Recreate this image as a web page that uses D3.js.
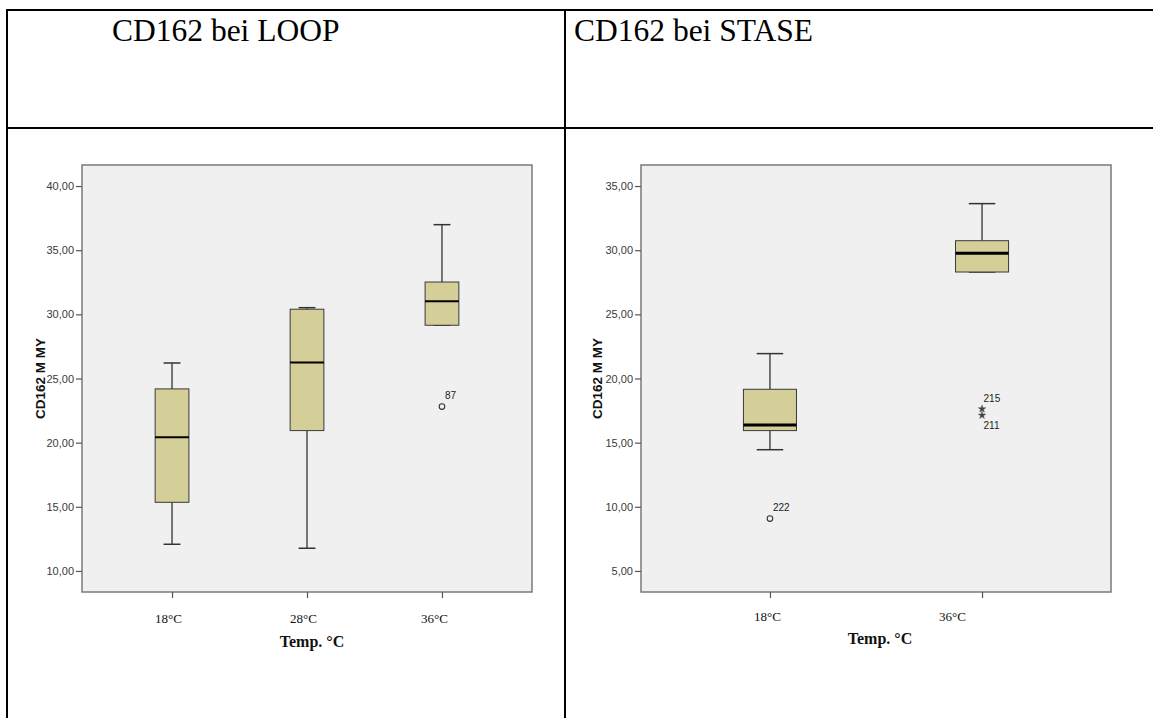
<!DOCTYPE html>
<html>
<head>
<meta charset="utf-8">
<script src="https://cdn.jsdelivr.net/npm/d3@7"></script>
<style>
  html, body { margin: 0; padding: 0; background: #fff; }
  svg { display: block; }
</style>
</head>
<body>
<svg id="chart" width="1153" height="718"></svg>
<script>
// ---- LOOP panel data (CD162 M MY by temperature) ----
const loopCategories = ["18°C", "28°C", "36°C"];
const loopWhiskerLow  = [12.08, 11.77, 29.15];
const loopQ1          = [15.35, 20.94, 29.15];
const loopMedian      = [20.42, 26.24, 31.02];
const loopQ3          = [24.19, 30.40, 32.52];
const loopWhiskerHigh = [26.21, 30.52, 36.99];
const loopOutlierCat   = ["36°C"];
const loopOutlierValue = [22.81];
const loopOutlierId    = ["87"];
const loopOutlierKind  = ["circle"];
const loopTicks = [10, 15, 20, 25, 30, 35, 40];

// ---- STASE panel data ----
const staseCategories = ["18°C", "36°C"];
const staseWhiskerLow  = [14.45, 28.30];
const staseQ1          = [15.94, 28.30];
const staseMedian      = [16.38, 29.76];
const staseQ3          = [19.16, 30.74];
const staseWhiskerHigh = [21.94, 33.63];
const staseOutlierCat   = ["18°C", "36°C", "36°C"];
const staseOutlierValue = [9.08, 17.63, 17.13];
const staseOutlierId    = ["222", "215", "211"];
const staseOutlierKind  = ["circle", "star", "star"];
const staseTicks = [5, 10, 15, 20, 25, 30, 35];

const titles = ["CD162 bei LOOP", "CD162 bei STASE"];
const yTitle = "CD162 M MY";
const xTitle = "Temp. °C";

const svg = d3.select("#chart");
const fmt = v => d3.format(".2f")(v).replace(".", ",");

// ---- table grid ----
const grid = svg.append("g").attr("stroke", "#000").attr("stroke-width", 2);
grid.append("line").attr("x1", 6).attr("x2", 1153).attr("y1", 10).attr("y2", 10);
grid.append("line").attr("x1", 6).attr("x2", 1153).attr("y1", 128).attr("y2", 128);
grid.append("line").attr("x1", 7).attr("x2", 7).attr("y1", 9).attr("y2", 718);
grid.append("line").attr("x1", 565).attr("x2", 565).attr("y1", 9).attr("y2", 718);

// cell titles
svg.append("text").attr("x", 112).attr("y", 41).text(titles[0])
  .attr("font-family", "Liberation Serif, Times New Roman, serif").attr("font-size", 31.5).attr("fill", "#000");
svg.append("text").attr("x", 574).attr("y", 41).text(titles[1])
  .attr("font-family", "Liberation Serif, Times New Roman, serif").attr("font-size", 31.5).attr("fill", "#000");

function drawPanel(cfg) {
  const g = svg.append("g");
  const { left, right, top, bottom } = cfg.frame;

  const x = d3.scalePoint().domain(cfg.categories).range([left, right]).padding(cfg.padding);
  const y = d3.scaleLinear().domain(cfg.domain).range([bottom, top]);
  const boxW = x.step() * 0.25;

  // plot area
  g.append("rect").attr("x", left).attr("y", top)
    .attr("width", right - left).attr("height", bottom - top)
    .attr("fill", "#f0f0f0").attr("stroke", "#7a7a7a").attr("stroke-width", 1.5);

  // y axis
  const ya = g.append("g").attr("transform", `translate(${left},0)`)
    .call(d3.axisLeft(y).tickValues(cfg.ticks).tickFormat(fmt).tickSize(6).tickPadding(2));
  ya.select(".domain").remove();
  ya.selectAll(".tick line").attr("stroke", "#555").attr("stroke-width", 1.2);
  ya.selectAll(".tick text").attr("font-family", "Liberation Sans, Arial, sans-serif")
    .attr("font-size", 11).attr("fill", "#3a3a3a");

  // x axis
  const xa = g.append("g").attr("transform", `translate(0,${bottom})`)
    .call(d3.axisBottom(x).tickSize(6).tickPadding(0));
  xa.select(".domain").remove();
  xa.selectAll(".tick line").attr("stroke", "#555").attr("stroke-width", 1.2);
  xa.selectAll(".tick text")
    .attr("font-family", "Liberation Serif, Times New Roman, serif")
    .attr("font-size", 13).attr("fill", "#111")
    .attr("dy", null)
    .attr("y", cfg.xLabelBaseline - bottom)
    .attr("x", (d, i) => cfg.xLabelShift[i]);

  // axis titles
  g.append("text")
    .attr("transform", `translate(${cfg.yTitleX},${(top + bottom) / 2}) rotate(-90)`)
    .attr("text-anchor", "middle")
    .attr("font-family", "Liberation Sans, Arial, sans-serif").attr("font-weight", "bold")
    .attr("font-size", 13.5).attr("fill", "#111").text(yTitle);
  g.append("text")
    .attr("x", cfg.xTitleX).attr("y", cfg.xTitleBaseline).attr("text-anchor", "middle")
    .attr("font-family", "Liberation Serif, Times New Roman, serif").attr("font-weight", "bold")
    .attr("font-size", 16).attr("fill", "#111").text(xTitle);

  // boxes
  const rows = cfg.categories.map((c, i) => ({
    c, lo: cfg.lo[i], q1: cfg.q1[i], med: cfg.med[i], q3: cfg.q3[i], hi: cfg.hi[i]
  }));
  const box = g.selectAll(".box").data(rows).join("g").attr("class", "box");
  box.append("line").attr("x1", d => x(d.c)).attr("x2", d => x(d.c))
    .attr("y1", d => y(d.hi)).attr("y2", d => y(d.q3)).attr("stroke", "#333").attr("stroke-width", 1.3);
  box.append("line").attr("x1", d => x(d.c)).attr("x2", d => x(d.c))
    .attr("y1", d => y(d.q1)).attr("y2", d => y(d.lo)).attr("stroke", "#333").attr("stroke-width", 1.3);
  box.append("line").attr("x1", d => x(d.c) - boxW / 4).attr("x2", d => x(d.c) + boxW / 4)
    .attr("y1", d => y(d.hi)).attr("y2", d => y(d.hi)).attr("stroke", "#333").attr("stroke-width", 1.5);
  box.append("line").attr("x1", d => x(d.c) - boxW / 4).attr("x2", d => x(d.c) + boxW / 4)
    .attr("y1", d => y(d.lo)).attr("y2", d => y(d.lo)).attr("stroke", "#333").attr("stroke-width", 1.5);
  box.append("rect").attr("x", d => x(d.c) - boxW / 2).attr("width", boxW)
    .attr("y", d => y(d.q3)).attr("height", d => y(d.q1) - y(d.q3))
    .attr("fill", "#d4ce98").attr("stroke", "#3a3a3a").attr("stroke-width", 1);
  box.append("line").attr("x1", d => x(d.c) - boxW / 2).attr("x2", d => x(d.c) + boxW / 2)
    .attr("y1", d => y(d.med)).attr("y2", d => y(d.med))
    .attr("stroke", "#000").attr("stroke-width", cfg.medianWidth);

  // outliers (circles) and extremes (stars)
  const outs = cfg.outCat.map((c, i) => ({ c, v: cfg.outVal[i], id: cfg.outId[i], kind: cfg.outKind[i] }));
  outs.forEach(o => {
    const cx = x(o.c), cy = y(o.v);
    if (o.kind === "circle") {
      g.append("circle").attr("cx", cx).attr("cy", cy).attr("r", 2.8)
        .attr("fill", "none").attr("stroke", "#333").attr("stroke-width", 1.1);
      g.append("text").attr("x", cx + 3).attr("y", cy - 7.5).text(o.id)
        .attr("font-family", "Liberation Sans, Arial, sans-serif").attr("font-size", 10).attr("fill", "#222");
    } else {
      g.append("path").attr("transform", `translate(${cx},${cy})`)
        .attr("d", d3.symbol(d3.symbolStar, 18)())
        .attr("fill", "#444").attr("stroke", "#444").attr("stroke-width", 0.4);
      // among extremes of one group the upper label sits above, the lower below
      const peers = outs.filter(p => p.kind === "star" && p.c === o.c);
      const isTop = o.v === d3.max(peers, p => p.v);
      g.append("text").attr("x", cx + 1.5).attr("y", isTop ? cy - 7 : cy + 14).text(o.id)
        .attr("font-family", "Liberation Sans, Arial, sans-serif").attr("font-size", 10).attr("fill", "#222");
    }
  });
}

drawPanel({
  categories: loopCategories, lo: loopWhiskerLow, q1: loopQ1, med: loopMedian, q3: loopQ3, hi: loopWhiskerHigh,
  outCat: loopOutlierCat, outVal: loopOutlierValue, outId: loopOutlierId, outKind: loopOutlierKind,
  ticks: loopTicks, domain: [8.36, 41.64],
  frame: { left: 82, right: 532, top: 165, bottom: 592 }, padding: 0.667,
  medianWidth: 2, xLabelBaseline: 622.5, xLabelShift: [-4, -4, -8],
  yTitleX: 45, xTitleX: 312, xTitleBaseline: 647
});

drawPanel({
  categories: staseCategories, lo: staseWhiskerLow, q1: staseQ1, med: staseMedian, q3: staseQ3, hi: staseWhiskerHigh,
  outCat: staseOutlierCat, outVal: staseOutlierValue, outId: staseOutlierId, outKind: staseOutlierKind,
  ticks: staseTicks, domain: [3.36, 36.64],
  frame: { left: 641, right: 1111, top: 165, bottom: 592 }, padding: 0.608,
  medianWidth: 3, xLabelBaseline: 620.5, xLabelShift: [-3, -30],
  yTitleX: 601.5, xTitleX: 880, xTitleBaseline: 643.5
});
</script>
</body>
</html>
